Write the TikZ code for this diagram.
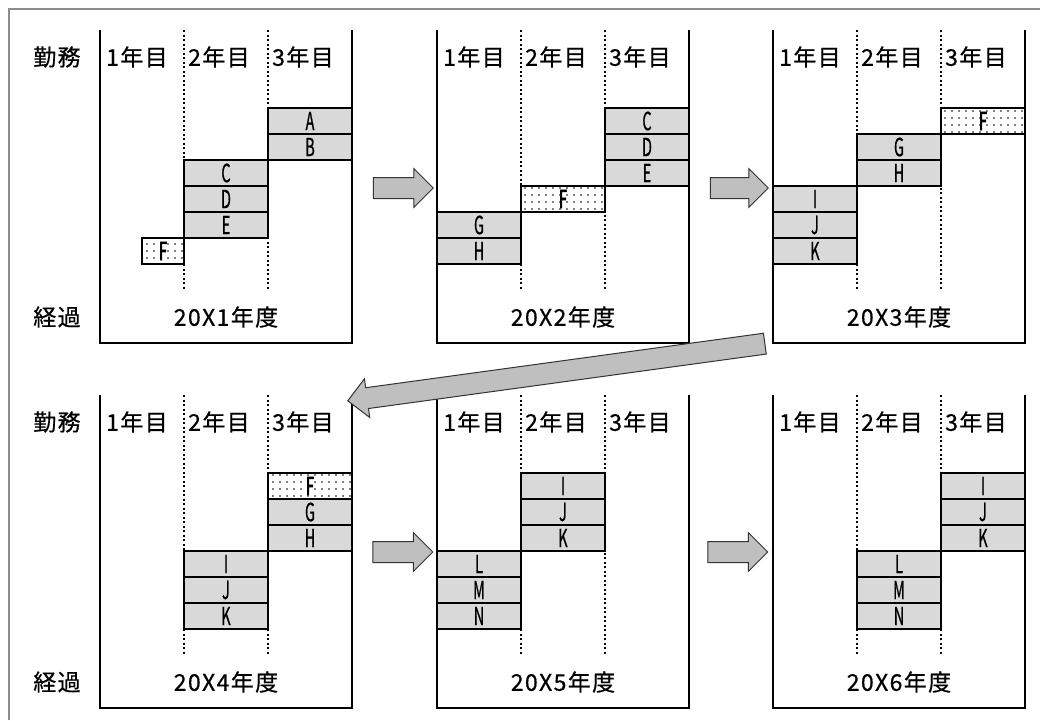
\documentclass[tikz,border=0pt]{standalone}
\usepackage{fontspec}
\newfontfamily\jpfont[LetterSpace=6,FakeBold=0.6]{Noto Sans CJK JP}
\newfontfamily\cellfont[FakeStretch=0.58,FakeBold=0.6]{Noto Sans CJK JP}
\newfontfamily\cellboldfont[FakeStretch=0.58,FakeBold=2.5]{Noto Sans CJK JP}
\usetikzlibrary{shapes.arrows,patterns.meta}

\begin{document}
\begin{tikzpicture}[x=1pt,y=-1pt,
  frame/.style={line width=1.4pt},
  yearline/.style={line width=1.5pt,dash pattern=on 2pt off 2.5pt},
  head/.style={anchor=west,inner sep=0pt,font=\jpfont\fontsize{23pt}{23pt}\selectfont},
  side/.style={inner sep=0pt,font=\jpfont\fontsize{23pt}{23pt}\selectfont},
  cell/.style={draw,line width=1.3pt,fill=black!15,minimum width=84pt,minimum height=26pt,inner sep=0pt,font=\cellfont\fontsize{25pt}{25pt}\selectfont},
  fcell/.style={cell,preaction={fill=white},pattern={Dots[distance=7pt,radius=0.9pt]},font=\cellboldfont\fontsize{25pt}{25pt}\selectfont},
  blockarrow/.style={single arrow,draw=black!80,line width=1pt,fill=black!25,inner xsep=0pt,inner ysep=10pt,single arrow head extend=9pt}]

  \useasboundingbox (0,0) rectangle (1040,720);
  \draw[black!45,line width=1.5pt] (9,720) -- (9,9) -- (1040,9);

  % side labels
  \node[side] (work1) at (57,57) {勤務};
  \node[side] (pass1) at (57,317) {経過};
  \node[side] (work2) at (57,422) {勤務};
  \node[side] (pass2) at (57,682) {経過};

  % panel 1
  \draw[frame] (100,30) -- (100,343) -- (352,343) -- (352,30);
  \draw[yearline] (184,30) -- (184,290);
  \draw[yearline] (268,30) -- (268,290);
  \node[head] (h1a) at (106,57) {1年目};
  \node[head] (h1b) at (188,57) {2年目};
  \node[head] (h1c) at (272,57) {3年目};
  \node[side] (y1) at (226,317) {20X1年度};
  \node[cell] (p1A) at (310,121) {A};
  \node[cell] (p1B) at (310,147) {B};
  \node[cell] (p1C) at (226,173) {C};
  \node[cell] (p1D) at (226,199) {D};
  \node[cell] (p1E) at (226,225) {E};
  \node[fcell,minimum width=42pt] (p1F) at (163,251) {F};

  % panel 2
  \draw[frame] (437,30) -- (437,343) -- (689,343) -- (689,30);
  \draw[yearline] (521,30) -- (521,290);
  \draw[yearline] (605,30) -- (605,290);
  \node[head] (h2a) at (443,57) {1年目};
  \node[head] (h2b) at (525,57) {2年目};
  \node[head] (h2c) at (609,57) {3年目};
  \node[side] (y2) at (563,317) {20X2年度};
  \node[cell] (p2C) at (647,121) {C};
  \node[cell] (p2D) at (647,147) {D};
  \node[cell] (p2E) at (647,173) {E};
  \node[fcell] (p2F) at (563,199) {F};
  \node[cell] (p2G) at (479,225) {G};
  \node[cell] (p2H) at (479,251) {H};

  % panel 3
  \draw[frame] (773,30) -- (773,343) -- (1025,343) -- (1025,30);
  \draw[yearline] (857,30) -- (857,290);
  \draw[yearline] (941,30) -- (941,290);
  \node[head] (h3a) at (779,57) {1年目};
  \node[head] (h3b) at (861,57) {2年目};
  \node[head] (h3c) at (945,57) {3年目};
  \node[side] (y3) at (899,317) {20X3年度};
  \node[fcell] (p3F) at (983,121) {F};
  \node[cell] (p3G) at (899,147) {G};
  \node[cell] (p3H) at (899,173) {H};
  \node[cell] (p3I) at (815,199) {I};
  \node[cell] (p3J) at (815,225) {J};
  \node[cell] (p3K) at (815,251) {K};

  % panel 4
  \draw[frame] (100,395) -- (100,708) -- (352,708) -- (352,395);
  \draw[yearline] (184,395) -- (184,655);
  \draw[yearline] (268,395) -- (268,655);
  \node[head] (h4a) at (106,422) {1年目};
  \node[head] (h4b) at (188,422) {2年目};
  \node[head] (h4c) at (272,422) {3年目};
  \node[side] (y4) at (226,682) {20X4年度};
  \node[fcell] (p4F) at (310,486) {F};
  \node[cell] (p4G) at (310,512) {G};
  \node[cell] (p4H) at (310,538) {H};
  \node[cell] (p4I) at (226,564) {I};
  \node[cell] (p4J) at (226,590) {J};
  \node[cell] (p4K) at (226,616) {K};

  % panel 5
  \draw[frame] (437,395) -- (437,708) -- (689,708) -- (689,395);
  \draw[yearline] (521,395) -- (521,655);
  \draw[yearline] (605,395) -- (605,655);
  \node[head] (h5a) at (443,422) {1年目};
  \node[head] (h5b) at (525,422) {2年目};
  \node[head] (h5c) at (609,422) {3年目};
  \node[side] (y5) at (563,682) {20X5年度};
  \node[cell] (p5I) at (563,486) {I};
  \node[cell] (p5J) at (563,512) {J};
  \node[cell] (p5K) at (563,538) {K};
  \node[cell] (p5L) at (479,564) {L};
  \node[cell] (p5M) at (479,590) {M};
  \node[cell] (p5N) at (479,616) {N};

  % panel 6
  \draw[frame] (773,395) -- (773,708) -- (1025,708) -- (1025,395);
  \draw[yearline] (857,395) -- (857,655);
  \draw[yearline] (941,395) -- (941,655);
  \node[head] (h6a) at (779,422) {1年目};
  \node[head] (h6b) at (861,422) {2年目};
  \node[head] (h6c) at (945,422) {3年目};
  \node[side] (y6) at (899,682) {20X6年度};
  \node[cell] (p6I) at (983,486) {I};
  \node[cell] (p6J) at (983,512) {J};
  \node[cell] (p6K) at (983,538) {K};
  \node[cell] (p6L) at (899,564) {L};
  \node[cell] (p6M) at (899,590) {M};
  \node[cell] (p6N) at (899,616) {N};

  % arrows
  \node[blockarrow,minimum height=60pt] (a12) at (398,188) {};
  \node[blockarrow,minimum height=58pt] (a23) at (734,188) {};
  \node[blockarrow,minimum height=421pt,rotate=187.8] (a34) at (561.5,371.5) {};
  \node[blockarrow,minimum height=60pt] (a45) at (397.5,552) {};
  \node[blockarrow,minimum height=60pt] (a56) at (732.5,552) {};
\end{tikzpicture}
\end{document}
